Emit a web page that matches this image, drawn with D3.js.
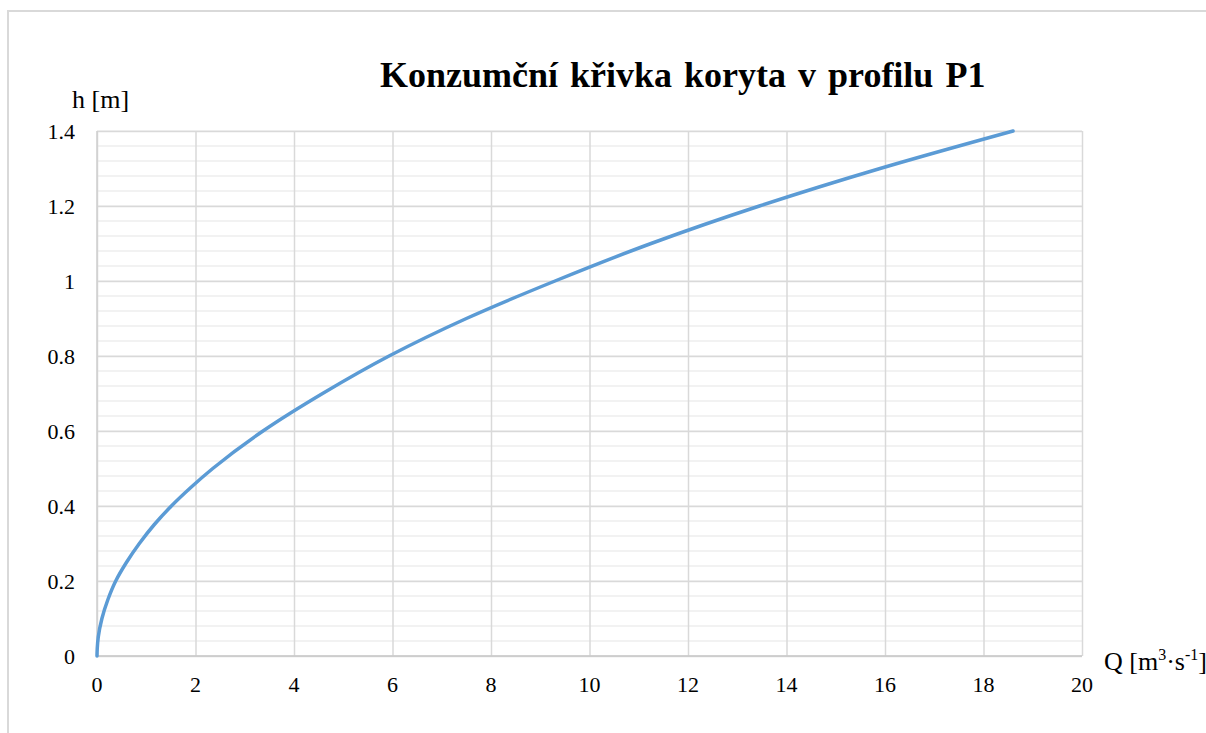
<!DOCTYPE html>
<html>
<head>
<meta charset="utf-8">
<script src="https://cdn.jsdelivr.net/npm/d3@7"></script>
<style>
  html, body { margin: 0; padding: 0; background: #fff; }
  svg { display: block; }
  text { font-family: "Liberation Serif", "Times New Roman", serif; fill: #000; }
</style>
</head>
<body>
<svg id="chart" width="1206" height="733"></svg>
<script>
// Data (discharge Q [m3/s] vs. water depth h [m])
const depthH = [0, 0.02, 0.05, 0.1, 0.15, 0.2, 0.25, 0.3, 0.35, 0.4, 0.45, 0.5, 0.6, 0.7, 0.8, 0.9, 1.0, 1.1, 1.2, 1.3, 1.4];
const dischargeQ = [0, 0.005, 0.025, 0.1, 0.22, 0.38, 0.6, 0.86, 1.16, 1.51, 1.91, 2.35, 3.37, 4.58, 5.93, 7.5, 9.3, 11.25, 13.45, 15.9, 18.6];
const xTicks = [0, 2, 4, 6, 8, 10, 12, 14, 16, 18, 20];
const yTicks = [0, 0.2, 0.4, 0.6, 0.8, 1, 1.2, 1.4];
const yMinorTicks = [0, 0.04, 0.08, 0.12, 0.16, 0.2, 0.24, 0.28, 0.32, 0.36, 0.4, 0.44, 0.48, 0.52, 0.56, 0.6, 0.64, 0.68, 0.72, 0.76, 0.8, 0.84, 0.88, 0.92, 0.96, 1, 1.04, 1.08, 1.12, 1.16, 1.2, 1.24, 1.28, 1.32, 1.36, 1.4];

const titleText = "Konzumční křivka koryta v profilu P1";
const FONT = "'Liberation Serif', 'Times New Roman', serif";

const svg = d3.select("#chart");

// outer chart frame
svg.append("rect")
  .attr("x", 8).attr("y", 11)
  .attr("width", 1400).attr("height", 900)
  .attr("fill", "#fff")
  .attr("stroke", "#d9d9d9").attr("stroke-width", 2);

const x = d3.scaleLinear().domain([0, 20]).range([97, 1082]);
const y = d3.scaleLinear().domain([0, 1.4]).range([656, 131]);

// minor horizontal gridlines (every 0.04)
svg.append("g")
  .selectAll("line")
  .data(yMinorTicks)
  .join("line")
  .attr("x1", x(0)).attr("x2", x(20))
  .attr("y1", d => y(d)).attr("y2", d => y(d))
  .attr("stroke", "#eeeeee").attr("stroke-width", 1.5);

// major horizontal gridlines
svg.append("g")
  .attr("transform", `translate(${x(0)},0)`)
  .call(d3.axisLeft(y).tickValues(yTicks).tickSize(-(x(20) - x(0))).tickFormat(""))
  .call(g => g.select(".domain").remove())
  .call(g => g.selectAll(".tick line").attr("stroke", "#d9d9d9").attr("stroke-width", 1.5));

// major vertical gridlines
svg.append("g")
  .attr("transform", `translate(0,${y(0)})`)
  .call(d3.axisBottom(x).tickValues(xTicks).tickSize(-(y(0) - y(1.4))).tickFormat(""))
  .call(g => g.select(".domain").remove())
  .call(g => g.selectAll(".tick line").attr("stroke", "#d9d9d9").attr("stroke-width", 1.5));

// axis lines
svg.append("line")
  .attr("x1", x(0)).attr("x2", x(20)).attr("y1", y(0)).attr("y2", y(0))
  .attr("stroke", "#c8c8c8").attr("stroke-width", 1.5);
svg.append("line")
  .attr("x1", x(0)).attr("x2", x(0)).attr("y1", y(0)).attr("y2", y(1.4))
  .attr("stroke", "#cfcfcf").attr("stroke-width", 1.5);

// tick labels
svg.append("g")
  .selectAll("text")
  .data(xTicks)
  .join("text")
  .attr("x", d => x(d)).attr("y", 692)
  .attr("text-anchor", "middle")
  .attr("font-family", FONT)
  .attr("font-size", 22)
  .text(d => d);

svg.append("g")
  .selectAll("text")
  .data(yTicks)
  .join("text")
  .attr("x", 75).attr("y", d => y(d) + 8)
  .attr("text-anchor", "end")
  .attr("font-family", FONT)
  .attr("font-size", 22)
  .text(d => d);

// curve
const pts = depthH.map((h, i) => ({ h, q: dischargeQ[i] }));
svg.append("path")
  .datum(pts)
  .attr("fill", "none")
  .attr("stroke", "#5b9bd5")
  .attr("stroke-width", 3.5)
  .attr("stroke-linecap", "round")
  .attr("d", d3.line().x(d => x(d.q)).y(d => y(d.h)).curve(d3.curveMonotoneY));

// title
svg.append("text")
  .attr("x", 380).attr("y", 87)
  .attr("font-family", FONT)
  .attr("font-size", 36).attr("font-weight", "bold")
  .attr("word-spacing", 3)
  .text(titleText);

// axis titles
svg.append("text")
  .attr("x", 72).attr("y", 108)
  .attr("font-family", FONT)
  .attr("font-size", 26)
  .text("h [m]");

const qt = svg.append("text")
  .attr("x", 1104).attr("y", 670)
  .attr("font-family", FONT)
  .attr("font-size", 26);
qt.append("tspan").text("Q [m");
qt.append("tspan").attr("font-size", 16).attr("dy", -10).text("3");
qt.append("tspan").attr("dy", 10).text("·s");
qt.append("tspan").attr("font-size", 16).attr("dy", -10).text("-1");
qt.append("tspan").attr("dy", 10).text("]");
</script>
</body>
</html>
